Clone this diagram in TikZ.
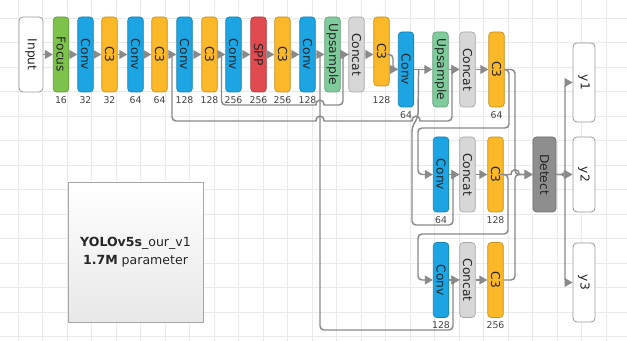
\documentclass[tikz,border=0pt]{standalone}
\usepackage{fontspec}
\usepackage{graphicx}
\setmainfont{DejaVu Sans}
\usetikzlibrary{arrows.meta,calc}

\definecolor{gridc}{HTML}{EAEAEA}
\definecolor{linkc}{HTML}{8A8A8A}
\definecolor{focusc}{HTML}{7CC24B}
\definecolor{convc}{HTML}{1DA5E3}
\definecolor{c3c}{HTML}{FBB829}
\definecolor{sppc}{HTML}{E14B50}
\definecolor{upc}{HTML}{80CB9B}
\definecolor{catc}{HTML}{D7D7D7}
\definecolor{detc}{HTML}{8E8E8E}
\definecolor{txtc}{HTML}{262626}
\definecolor{numc}{HTML}{444444}

\newcommand\vtext[1]{\rotatebox{-90}{#1}}

\tikzset{
  gridline/.style={draw=gridc, line width=0.4pt},
  layer/.style={draw=#1!78!black, fill=#1, rounded corners=2.6pt,
    minimum width=15.5*0.75pt, minimum height=75*0.75pt, inner sep=0pt,
    line width=0.5pt, text=txtc, font=\fontsize{9.2}{10}\selectfont},
  iobox/.style={draw=black!40, fill=white, rounded corners=3pt,
    minimum width=22*0.75pt, minimum height=75*0.75pt, inner sep=0pt,
    line width=0.6pt, text=txtc, font=\fontsize{9.2}{10}\selectfont},
  num/.style={inner sep=0pt, text=numc, font=\fontsize{7}{7}\selectfont},
  link/.style={draw=linkc, line width=1.1pt, rounded corners=3pt,
    -{Triangle[length=6pt,width=6.5pt]}},
  infobox/.style={draw=black!35, top color=white, bottom color=black!9,
    minimum width=135*0.75pt, minimum height=140*0.75pt, inner sep=0pt,
    align=center, text=txtc, font=\fontsize{9.4}{13.5}\selectfont}
}

\begin{document}
\begin{tikzpicture}[x=0.75pt,y=-0.75pt]
\useasboundingbox (0,0) rectangle (627,341);
\fill[white] (0,0) rectangle (627,341);

% background grid
\foreach \i in {0,...,25} \draw[gridline] ({18+24.5*\i},0) -- ({18+24.5*\i},341);
\foreach \i in {0,...,13} \draw[gridline] (0,{18+24.5*\i}) -- (627,{18+24.5*\i});

% backbone and first head stage
\node[iobox, minimum width=24*0.75pt] (in) at (31,54.5) {\vtext{Input}};
\node[layer=focusc] (focus) at (61,54.5) {\vtext{Focus}};
\node[layer=convc] (cv1) at (85.5,54.5) {\vtext{Conv}};
\node[layer=c3c] (c31) at (109.5,54.5) {\vtext{C3}};
\node[layer=convc] (cv2) at (135.5,54.5) {\vtext{Conv}};
\node[layer=c3c] (c32) at (159.5,54.5) {\vtext{C3}};
\node[layer=convc] (cv3) at (184.5,54.5) {\vtext{Conv}};
\node[layer=c3c] (c33) at (209.5,54.5) {\vtext{C3}};
\node[layer=convc] (cv4) at (233.5,54.5) {\vtext{Conv}};
\node[layer=sppc] (spp) at (258.5,54.5) {\vtext{SPP}};
\node[layer=c3c] (c34) at (282.5,54.5) {\vtext{C3}};
\node[layer=convc] (cv5) at (307.5,54.5) {\vtext{Conv}};
\node[layer=upc] (up1) at (332.5,54.5) {\vtext{Upsample}};
\node[layer=catc] (cat1) at (356.5,54.5) {\vtext{Concat}};
\node[layer=c3c, minimum height=69*0.75pt] (c35) at (381.5,51.5) {\vtext{C3}};

% second head stage
\node[layer=convc] (cv6) at (406,69.5) {\vtext{Conv}};
\node[layer=upc] (up2) at (440.5,69.5) {\vtext{Upsample}};
\node[layer=catc] (cat2) at (467.5,69.5) {\vtext{Concat}};
\node[layer=c3c] (c37) at (496.5,69.5) {\vtext{C3}};

\node[layer=convc] (cv7) at (441,174.5) {\vtext{Conv}};
\node[layer=catc] (cat3) at (467.5,174.5) {\vtext{Concat}};
\node[layer=c3c] (c38) at (495.5,174.5) {\vtext{C3}};

\node[layer=convc] (cv8) at (441,280) {\vtext{Conv}};
\node[layer=catc] (cat4) at (467.5,280) {\vtext{Concat}};
\node[layer=c3c] (c39) at (495.5,280) {\vtext{C3}};

\node[layer=detc, minimum width=23*0.75pt] (det) at (544.5,174.5) {\vtext{Detect}};

\node[iobox, minimum height=79*0.75pt] (y1) at (584,82.5) {\vtext{y1}};
\node[iobox] (y2) at (584,174.5) {\vtext{y2}};
\node[iobox, minimum height=79*0.75pt] (y3) at (584,282.5) {\vtext{y3}};

% channel counts
\node[num] (n1) at (61,100) {16};
\node[num] (n2) at (85.5,100) {32};
\node[num] (n3) at (109.5,100) {32};
\node[num] (n4) at (135.5,100) {64};
\node[num] (n5) at (159.5,100) {64};
\node[num] (n6) at (184.5,100) {128};
\node[num] (n7) at (209.5,100) {128};
\node[num] (n8) at (233.5,100) {256};
\node[num] (n9) at (258.5,100) {256};
\node[num] (n10) at (282.5,100) {256};
\node[num] (n11) at (307.5,100) {128};
\node[num] (n12) at (381.5,100) {128};
\node[num] (n13) at (406,115) {64};
\node[num] (n14) at (496.5,115) {64};
\node[num] (n15) at (441,220) {64};
\node[num] (n16) at (495.5,220) {128};
\node[num] (n17) at (441,325) {128};
\node[num] (n18) at (495.5,325) {256};

% summary box
\node[infobox] (info) at (135.5,252)
  {{\bfseries YOLOv5s}\_our\_v1\\{\bfseries 1.7M} parameter};

% main chain
\foreach \a/\b in {in/focus, focus/cv1, cv1/c31, c31/cv2, cv2/c32, c32/cv3,
  cv3/c33, c33/cv4, cv4/spp, spp/c34, c34/cv5, cv5/up1, up1/cat1,
  cv6/up2, up2/cat2, cat2/c37, cv7/cat3, cat3/c38, cv8/cat4, cat4/c39, det/y2}
  \draw[link] (\a) -- (\b);
\draw[link] (cat1.east) -- (cat1.east -| c35.west);
\draw[link] (c35.east |- 0,54.5) -- (393,54.5) |- (cv6.west);

% branch points
\coordinate (j4) at ($(c32.east)!0.5!(cv3.west)$);
\coordinate (j6) at ($(c33.east)!0.5!(cv4.west)$);
\coordinate (j10) at ($(cv5.east)!0.5!(up1.west)$);
\coordinate (j14) at ($(cv6.east)+(4.5,0)$);

% skip connections
\draw[link] (j4) -- (172,121) -- (308,121) [sharp corners] -- (316,121)
  .. controls (316,114.5) and (324,114.5) .. (324,121) -- (330,121)
  [rounded corners=3pt] -- (405,121) [sharp corners] -- (412,121)
  .. controls (412,114.5) and (420,114.5) .. (420,121) -- (426,121)
  [rounded corners=3pt] -- (452,121) -- (452,69.5) -- (cat2.west);
\draw[link] (j6) -- (221.5,105) -- (308,105) [sharp corners] -- (316,105)
  .. controls (316,98.5) and (324,98.5) .. (324,105) -- (330,105)
  [rounded corners=3pt] -- (343,105) -- (343,54.5) -- (cat1.west);
\draw[link] (j10) -- (320,330) -- (453,330) -- (453,280) -- (cat4.west);
\draw[link] (j14) -- (418,117) -- (412,127) -- (412,225) -- (453,225)
  -- (453,174.5) -- (cat3.west);

% head outputs
\draw[link] (c37.east) -- (509,69.5) -- (509,128) -- (418,128) -- (418,174.5)
  -- (cv7.west);
\draw[link] (c37.east) -- (515,69.5) -- (515,174.5) -- (det.west);
\draw[link] (c38.east) -- (508,174.5) -- (508,234) -- (418,234) -- (418,280)
  -- (cv8.west);
\draw[link] (c38.east) -- (504,174.5) [sharp corners] -- (511,174.5)
  .. controls (511,168) and (519,168) .. (519,174.5) -- (det.west);
\draw[link] (c39.east) -- (515,280) -- (515,174.5) -- (det.west);
\draw[link] (det.east) -- (565,174.5) -- (565,82.5) -- (y1.west);
\draw[link] (det.east) -- (565,174.5) -- (565,282.5) -- (y3.west);
\end{tikzpicture}
\end{document}
